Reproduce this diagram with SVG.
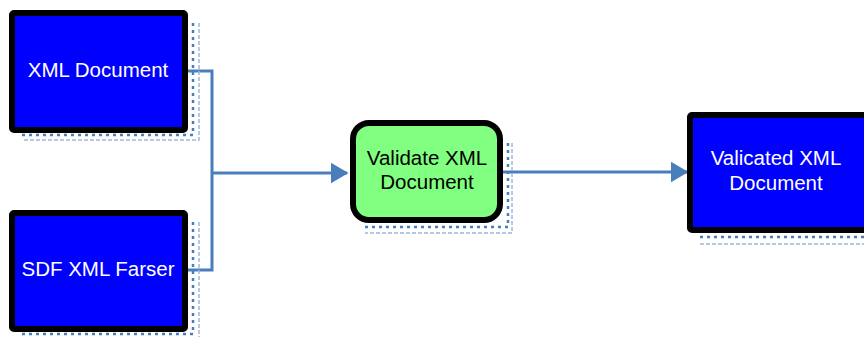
<svg xmlns="http://www.w3.org/2000/svg" width="864" height="337" viewBox="0 0 864 337">
  <style>
    .box { fill: #0000ff; stroke: #000; stroke-width: 6; }
    .proc { fill: #80ff80; stroke: #000; stroke-width: 6; }
    .lbl { font-family: "Liberation Sans", Arial, sans-serif; font-size: 20.5px; text-anchor: middle; }
    .w { fill: #ffffff; }
    .k { fill: #000000; }
    .sh1 { fill: none; stroke: #4a7ebb; stroke-width: 2.5; stroke-dasharray: 3 4; }
    .sh2 { fill: none; stroke: #9db7dd; stroke-width: 1.5; stroke-dasharray: 4 2; }
    .wire { fill: none; stroke: #4a7ebb; stroke-width: 3; }
  </style>
  <defs>
    <marker id="arrow" markerWidth="6" markerHeight="7" refX="5.5" refY="3.5" orient="auto" markerUnits="strokeWidth">
      <path d="M0,0 L6,3.5 L0,7 Z" fill="#4a7ebb"/>
    </marker>
  </defs>
  <rect width="864" height="337" fill="#ffffff"/>

  <g id="connectors">
    <path class="wire" d="M185,71 H212 V270 H185"/>
    <path class="wire" d="M212,173 H347" marker-end="url(#arrow)"/>
    <path class="wire" d="M503,172 H687" marker-end="url(#arrow)"/>
  </g>

  <g id="xml-document">
    <path class="sh1" d="M193,23 V135 H22"/>
    <path class="sh2" d="M199,23 V140 H22"/>
    <rect class="box" x="12" y="13" width="173" height="117" rx="2"/>
    <text class="lbl w" x="98" y="77">XML Document</text>
  </g>

  <g id="sdf-xml-parser">
    <path class="sh1" d="M193,222 V334 H22"/>
    <path class="sh2" d="M199,222 V340"/>
    <rect class="box" x="12" y="213" width="173" height="116" rx="2"/>
    <text class="lbl w" x="98" y="276">SDF XML Farser</text>
  </g>

  <g id="validate-xml-document">
    <path class="sh1" d="M508,143 V227 H365"/>
    <path class="sh2" d="M512,143 V233 H365"/>
    <rect class="proc" x="353" y="123" width="147" height="97" rx="16"/>
    <text class="lbl k" x="427" y="165">Validate XML</text>
    <text class="lbl k" x="427" y="189">Document</text>
  </g>

  <g id="validated-xml-document">
    <path class="sh1" d="M700,237 H866"/>
    <path class="sh2" d="M700,244 H866"/>
    <rect class="box" x="690" y="115" width="178" height="115" rx="2"/>
    <text class="lbl w" x="776" y="165">Valicated XML</text>
    <text class="lbl w" x="776" y="190">Document</text>
  </g>
</svg>
